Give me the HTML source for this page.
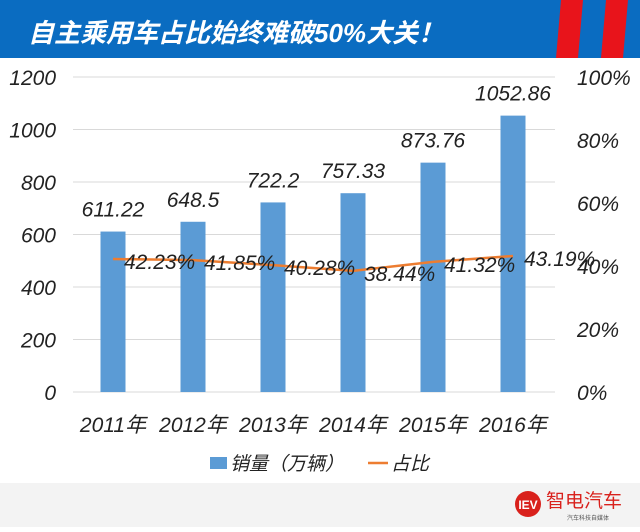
<!DOCTYPE html>
<html><head><meta charset="utf-8"><style>
body{margin:0;width:640px;height:527px;overflow:hidden;background:#fff;font-family:"Liberation Sans","Noto Sans CJK SC",sans-serif}
svg text{font-family:"Liberation Sans","Noto Sans CJK SC",sans-serif}
</style></head><body>
<svg width="640" height="527">
<g>
<rect x="0" y="0" width="640" height="58" fill="#0a6cc1"/>
<polygon points="561,0 583,0 578,58 556,58" fill="#e8141b"/>
<polygon points="606,0 628,0 623,58 601,58" fill="#e8141b"/>
<text x="28" y="42" font-size="26" font-weight="bold" font-style="italic" fill="#fff">自主乘用车占比始终难破50%大关！</text>
</g>
<rect x="0" y="483" width="640" height="44" fill="#f3f3f3"/>
<g>
<circle cx="528" cy="504" r="13" fill="#d9211c"/>
<text x="528" y="509" font-size="12" font-weight="bold" fill="#fff" text-anchor="middle" font-family="Liberation Serif">IEV</text>
<text x="546" y="507" font-size="19" fill="#d9211c">智电汽车</text>
<text x="567" y="520" font-size="6" fill="#555">汽车科技自媒体</text>
</g>
<g id="grid"></g><g id="bars"></g><g id="line"></g><g id="labels"></g>
<g>
<rect x="210" y="457" width="17" height="12" fill="#5b9bd5"/>
<text x="230" y="470" font-size="19" font-style="italic" fill="#222">销量（万辆）</text>
<line x1="368" y1="463" x2="388" y2="463" stroke="#ed7d31" stroke-width="2.5"/>
<text x="391" y="470" font-size="19" font-style="italic" fill="#222">占比</text>
</g>
</svg>
<script>
const categories=["2011年","2012年","2013年","2014年","2015年","2016年"];
const sales=[611.22,648.5,722.2,757.33,873.76,1052.86];
const shares=[42.23,41.85,40.28,38.44,41.32,43.19];
const leftTicks=[0,200,400,600,800,1000,1200];
const rightTicks=[0,20,40,60,80,100];
const NS="http://www.w3.org/2000/svg";
const x0=73,band=80,yB=392,yT=77;
const xc=i=>x0+band*(i+0.5);
const yL=v=>yB-(v/1200)*(yB-yT);
const yR=v=>yB-(v/100)*(yB-yT);
function mk(t,a,p,txt){const e=document.createElementNS(NS,t);for(const k in a)e.setAttribute(k,a[k]);if(txt!=null)e.textContent=txt;p.appendChild(e);return e;}
const G=document.getElementById('grid'),B=document.getElementById('bars'),L=document.getElementById('line'),T=document.getElementById('labels');
leftTicks.forEach(v=>{
 const g=mk('line',{x1:x0,x2:555,y1:yL(v),y2:yL(v),stroke:'#d9d9d9','stroke-width':1},G);
 
 
 const t=mk('text',{x:56,y:yL(v)+8,'font-size':21,'font-style':'italic','text-anchor':'end',fill:'#222'},G,String(v));
 
 
});
rightTicks.forEach(v=>{
 const t=mk('text',{x:577,y:yR(v)+8,'font-size':21,'font-style':'italic',fill:'#222'},G,v+'%');
 
 
});
categories.forEach((c,i)=>{
 const t=mk('text',{x:xc(i),y:432,'font-size':21,'font-style':'italic','text-anchor':'middle',fill:'#222'},G,c);
 
 
});
sales.forEach((v,i)=>{
 const r=mk('rect',{x:xc(i)-12.5,y:yL(v),width:25,height:yB-yL(v),fill:'#5b9bd5'},B);
 
 
 const t=mk('text',{x:xc(i),y:yL(v)-15,'font-size':21,'font-style':'italic','text-anchor':'middle',fill:'#222'},T,String(v));
 
 
});
const pl=mk('polyline',{points:shares.map((v,i)=>xc(i)+','+yR(v)).join(' '),fill:'none',stroke:'#ed7d31','stroke-width':2.5},L);


shares.forEach((v,i)=>{
 const t=mk('text',{x:xc(i)+11,y:yR(v)+10,'font-size':21,'font-style':'italic',fill:'#222'},T,v.toFixed(2)+'%');
 
 
});
</script>
</body></html>
